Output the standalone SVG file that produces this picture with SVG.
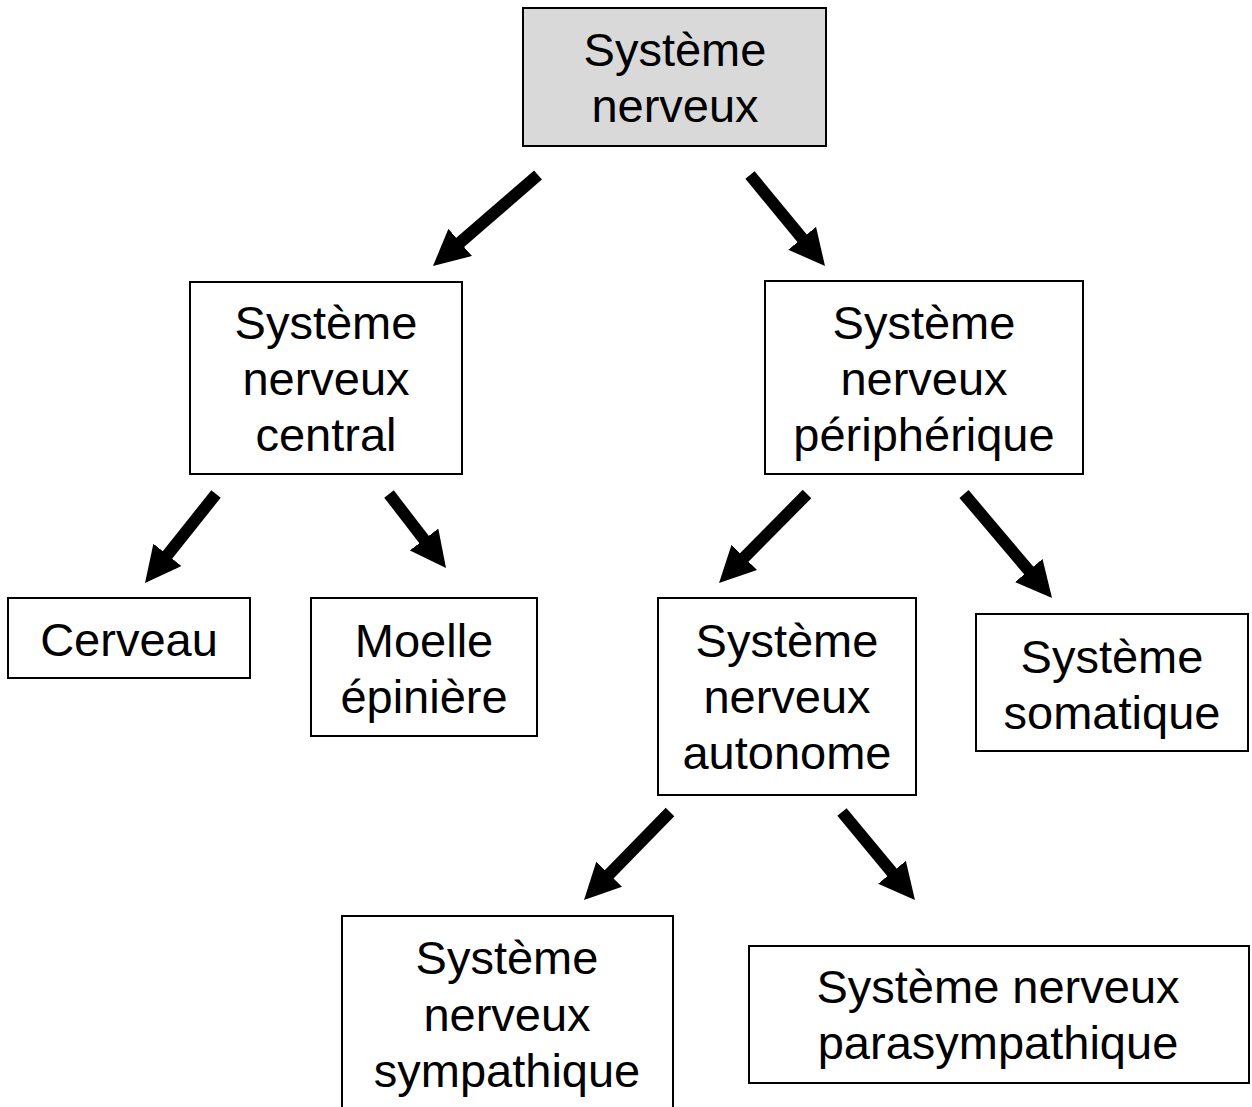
<svg xmlns="http://www.w3.org/2000/svg" width="1252" height="1107" viewBox="0 0 1252 1107">
<style>
.box{fill:#ffffff;stroke:#000000;stroke-width:2}
.root{fill:#d9d9d9;stroke:#000000;stroke-width:2}
.lbl{font-family:"Liberation Sans",Arial,sans-serif;font-size:47px;fill:#000000;text-anchor:middle}
.arr{stroke:#000000;stroke-width:12;fill:none;marker-end:url(#head)}
</style>
<defs>
<marker id="head" markerUnits="userSpaceOnUse" viewBox="0 0 36 36" markerWidth="36" markerHeight="36" refX="16" refY="18" orient="auto">
<path d="M0,0 L36,18 L0,36 z" fill="#000000"/>
</marker>
</defs>
<rect width="1252" height="1107" fill="#ffffff"/>
<g id="connectors">
<line class="arr" x1="538" y1="175" x2="448.1" y2="252.9"/>
<line class="arr" x1="750" y1="175" x2="812.3" y2="250.6"/>
<line class="arr" x1="216" y1="494" x2="157.5" y2="567.4"/>
<line class="arr" x1="389" y1="494" x2="433.8" y2="552.2"/>
<line class="arr" x1="807" y1="494" x2="733.1" y2="568.8"/>
<line class="arr" x1="964" y1="494" x2="1039.1" y2="582.7"/>
<line class="arr" x1="670" y1="812" x2="598" y2="885.7"/>
<line class="arr" x1="842" y1="812" x2="902.2" y2="884.6"/>
</g>
<g id="node-systeme-nerveux">
<rect class="root" x="523" y="8" width="303" height="138"/>
<text class="lbl" x="675" y="66">Système</text>
<text class="lbl" x="675" y="122">nerveux</text>
</g>
<g id="node-snc">
<rect class="box" x="190" y="282" width="272" height="192"/>
<text class="lbl" x="326" y="339">Système</text>
<text class="lbl" x="326" y="395">nerveux</text>
<text class="lbl" x="326" y="451">central</text>
</g>
<g id="node-snp">
<rect class="box" x="765" y="281" width="318" height="193"/>
<text class="lbl" x="924" y="339">Système</text>
<text class="lbl" x="924" y="395">nerveux</text>
<text class="lbl" x="924" y="451">périphérique</text>
</g>
<g id="node-cerveau">
<rect class="box" x="8" y="598" width="242" height="80"/>
<text class="lbl" x="129" y="656">Cerveau</text>
</g>
<g id="node-moelle">
<rect class="box" x="311" y="598" width="226" height="138"/>
<text class="lbl" x="424" y="657">Moelle</text>
<text class="lbl" x="424" y="713">épinière</text>
</g>
<g id="node-autonome">
<rect class="box" x="658" y="598" width="258" height="197"/>
<text class="lbl" x="787" y="657">Système</text>
<text class="lbl" x="787" y="713">nerveux</text>
<text class="lbl" x="787" y="769">autonome</text>
</g>
<g id="node-somatique">
<rect class="box" x="976" y="614" width="272" height="137"/>
<text class="lbl" x="1112" y="673">Système</text>
<text class="lbl" x="1112" y="729">somatique</text>
</g>
<g id="node-sympathique">
<rect class="box" x="342" y="916" width="331" height="200"/>
<text class="lbl" x="507" y="974">Système</text>
<text class="lbl" x="507" y="1031">nerveux</text>
<text class="lbl" x="507" y="1087">sympathique</text>
</g>
<g id="node-parasympathique">
<rect class="box" x="749" y="946" width="500" height="137"/>
<text class="lbl" x="998" y="1003">Système nerveux</text>
<text class="lbl" x="998" y="1059">parasympathique</text>
</g>
</svg>
